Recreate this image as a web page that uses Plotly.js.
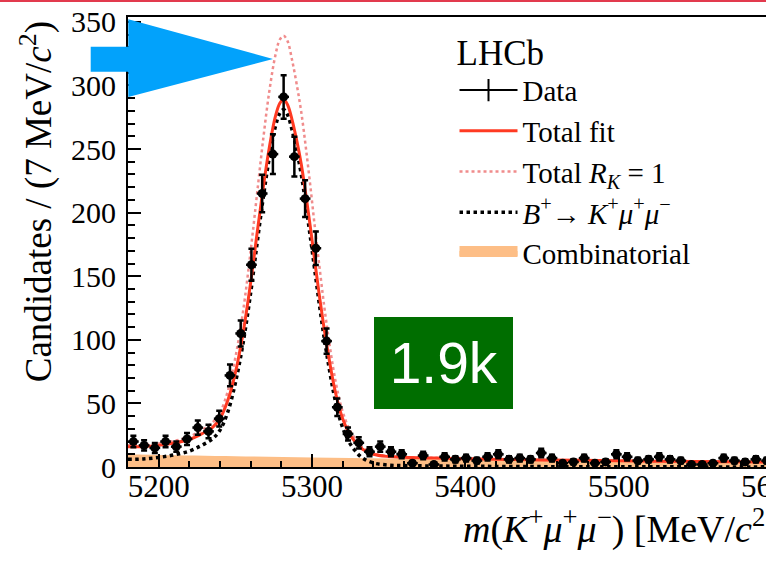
<!DOCTYPE html>
<html><head><meta charset="utf-8">
<script src="https://cdn.plot.ly/plotly-3.0.1.min.js"></script>
<style>
html,body{margin:0;padding:0;width:766px;height:564px;overflow:hidden;background:#fff;}
#chart{position:absolute;left:0;top:0;width:840px;height:564px;}
#topline{position:absolute;left:0;top:0;width:766px;height:2px;background:#E23A4E;z-index:5;}
#arrow{position:absolute;left:0;top:0;z-index:4;}
#badge{position:absolute;left:374px;top:317px;width:139px;height:92px;background:#006E00;color:#fff;font-family:"Liberation Sans",Arial,sans-serif;font-size:57px;display:flex;align-items:center;justify-content:center;z-index:4;}
</style></head>
<body>
<div id="chart"></div>
<div id="topline"></div>
<svg id="arrow" width="300" height="110"><polygon points="90.7,46.7 128.3,46.7 128.3,19.3 273,59 128.3,97 128.3,71.7 90.7,71.7" fill="#02A2FB"/></svg>
<div id="badge">1.9k</div>
<script>
// Data: B+ -> K+ mu+ mu- candidates, 7 MeV bins
const massBins = [5183.5,5190.5,5197.5,5204.5,5211.5,5218.5,5225.5,5232.5,5239.5,5246.5,
  5253.5,5260.5,5267.5,5274.5,5281.5,5288.5,5295.5,5302.5,5309.5,5316.5,
  5323.5,5330.5,5337.5,5344.5,5351.5,5358.5,5365.5,5372.5,5379.5,5386.5,
  5393.5,5400.5,5407.5,5414.5,5421.5,5428.5,5435.5,5442.5,5449.5,5456.5,
  5463.5,5470.5,5477.5,5484.5,5491.5,5498.5,5505.5,5512.5,5519.5,5526.5,
  5533.5,5540.5,5547.5,5554.5,5561.5,5568.5,5575.5,5582.5,5589.5,5596.5];
const counts = [20,17,15,20,16,22,31,28,38,72,
  105,159,215,246,291,244,211,172,99,47,
  26,19,12,16,12,10,3,9,2,8,
  6,7,5,8,10,6,7,6,11,7,
  3,4,7,3,4,10,8,5,6,8,
  6,5,2,2,3,7,5,4,6,5];
const countErrors = [4.5,4.1,3.9,4.5,4.0,4.7,5.6,5.3,6.2,8.5,
  10.2,12.6,14.7,15.7,17.1,15.6,14.5,13.1,9.9,6.9,
  5.1,4.4,3.5,4.0,3.5,3.2,1.7,3.0,1.4,2.8,
  2.4,2.6,2.2,2.8,3.2,2.4,2.6,2.4,3.3,2.6,
  1.7,2.0,2.6,1.7,2.0,3.2,2.8,2.2,2.4,2.8,
  2.4,2.2,1.4,1.4,1.7,2.6,2.2,2.0,2.4,2.2];
const halfBin = 3.5;

// Fit curves
const fitMass = [5180,5190,5200,5210,5220,5228,5235,5240,5245,5250,5255,5260,5264,5268,5272,
  5276,5279,5281.5,5284,5287,5290,5293,5296,5299,5302,5305,5308,5311,5314,5317,
  5320,5324,5328,5333,5340,5350,5360,5380,5400,5450,5500,5550,5600];
const totalFit = [16,16,17,18.8,21.6,26,31,38,52,74,105,145,182,218,250,
  275,286,289,285,273,257,238,214,188,160,133,108,86,66,50,
  38,27,20,14,10,8.2,7.6,7.0,6.5,5.6,4.9,4.3,3.8];
const totalRK1 = [17.1,17.4,18.4,20.5,23.9,29,34.8,42.9,59.3,86,122,170,213,256,294,
  323,336,339,335,320,301,279,251,220,187,156,126,100,76.5,57.7,
  43.5,30.6,22.4,15.2,10.6,8.5,7.8,7.2,6.6,5.6,4.9,4.3,3.8];
const signalKmumu = [6,6.3,7.5,9.5,12.5,17,22,29,43,66,97,137,174,210,242,
  267,278,281,277,265,249,230,206,180,153,126,101,79,59,43,
  31,20,13,7,3.2,1.5,1.1,0.8,0.6,0.3,0.2,0.1,0.1];
const combMass = [5180,5200,5250,5300,5350,5400,5450,5500,5550,5600];
const combinatorial = [10,9.5,8.5,7.5,6.7,5.9,5.3,4.7,4.2,3.7];

const names = {
  data: 'Data',
  total: 'Total fit',
  rk1: 'Total <i>R</i><sub><i>K</i></sub> = 1',
  sig: '<i>B</i><sup>+</sup>\u2192 <i>K</i><sup>+</sup><i>\u03bc</i><sup>+</sup><i>\u03bc</i><sup>\u2212</sup>',
  comb: 'Combinatorial'
};
const serif = '"Liberation Serif", "Times New Roman", Times, serif';
const combColor = '#FDBE86';

const traces = [
  {x: combMass, y: combinatorial, type:'scatter', mode:'lines', fill:'tozeroy',
   fillcolor:combColor, line:{width:0, shape:'spline', color:combColor}, name:names.comb,
   showlegend:false, hoverinfo:'skip'},
  {x: fitMass, y: signalKmumu, type:'scatter', mode:'lines',
   line:{color:'black', width:3.5, dash:'dot', shape:'spline'}, name:names.sig, legendrank:4},
  {x: fitMass, y: totalRK1, type:'scatter', mode:'lines',
   line:{color:'#F08C8C', width:2.5, dash:'dot', shape:'spline'}, name:names.rk1, legendrank:3},
  {x: fitMass, y: totalFit, type:'scatter', mode:'lines',
   line:{color:'#FF3A22', width:3, shape:'spline'}, name:names.total, legendrank:2},
  {x: massBins, y: counts, type:'scatter', mode:'markers',
   marker:{color:'black', size:9},
   error_y:{type:'data', array:countErrors, visible:true, color:'black', thickness:2.5, width:3},
   error_x:{type:'constant', value:halfBin, visible:true, color:'black', thickness:2.5, width:0},
   showlegend:false, name:names.data},
  {x:[null], y:[null], type:'scatter', mode:'lines+markers',
   line:{color:'black', width:2},
   marker:{symbol:'line-ns-open', size:16, color:'black', line:{color:'black', width:2}},
   name:names.data, legendrank:1},
  {x:[null], y:[null], type:'scatter', mode:'lines', fill:'tozeroy', fillcolor:combColor,
   line:{color:combColor, width:30}, name:names.comb, legendrank:5}
];

const axisCommon = {
  showgrid:false, zeroline:false, showline:true, linecolor:'black', linewidth:2,
  mirror:true, ticks:'inside', ticklen:13, tickwidth:2, tickcolor:'black',
  ticklabeloverflow:'allow',
  tickfont:{size:30, family:serif, color:'black'}
};

const layout = {
  width:840, height:564,
  margin:{l:128, r:68, t:17, b:97, pad:0},
  paper_bgcolor:'rgba(0,0,0,0)', plot_bgcolor:'white',
  font:{family:serif, color:'black'},
  showlegend:true,
  xaxis: Object.assign({}, axisCommon, {
    range:[5180,5600], tick0:5200, dtick:100, ticklabelstandoff:-9,
    tickfont:{size:31, family:serif, color:'black'},
    minor:{dtick:20, ticks:'inside', ticklen:6.5, tickwidth:2, tickcolor:'black', showgrid:false}
  }),
  yaxis: Object.assign({}, axisCommon, {
    range:[0,353.8], tick0:0, dtick:50, ticklabelstandoff:4,
    minor:{dtick:10, ticks:'inside', ticklen:6.5, tickwidth:2, tickcolor:'black', showgrid:false}
  }),
  legend:{x:0.507, xanchor:'left', y:0.995, yanchor:'top', bgcolor:'rgba(0,0,0,0)',
    font:{size:29, family:serif, color:'black'},
    title:{text:'LHCb', font:{size:35, family:serif, color:'black'}},
    itemwidth:58, tracegroupgap:0, traceorder:'normal'},
  annotations:[
    {text:'<i>m</i>(<i>K</i><sup>+</sup><i>\u03bc</i><sup>+</sup><i>\u03bc</i><sup>\u2212</sup>) [MeV/<i>c</i><sup>2</sup>]',
     xref:'paper', yref:'paper', x:1.012, xanchor:'right', y:-0.132, yanchor:'middle',
     showarrow:false, font:{size:38, family:serif, color:'black'}},
    {text:'Candidates / (7 MeV/<i>c</i><sup>2</sup>)',
     xref:'paper', yref:'paper', x:-0.142, xanchor:'center', y:0.995, yanchor:'top',
     textangle:-90, showarrow:false, font:{size:37, family:serif, color:'black'}}
  ]
};

Plotly.newPlot('chart', traces, layout, {displayModeBar:false, staticPlot:true});
</script>
</body></html>
